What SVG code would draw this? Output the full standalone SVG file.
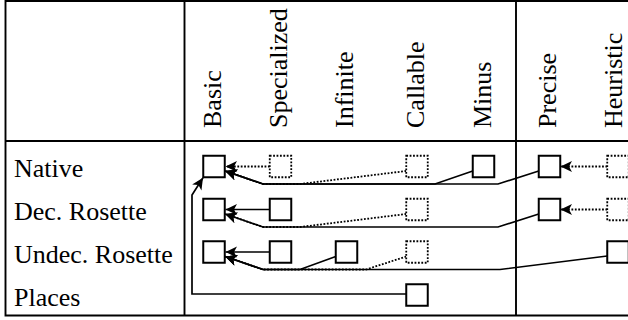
<svg xmlns="http://www.w3.org/2000/svg" width="628" height="320" viewBox="0 0 628 320">
  <style>
    .grid { stroke: #000; stroke-width: 1.9; fill: none; }
    .lbl { font-family: "Liberation Serif", "Times New Roman", serif; font-size: 26px; fill: #000; }
    .box { fill: #fff; stroke: #000; stroke-width: 2; }
    .box.dot { stroke-dasharray: 1.8 1.6; stroke-width: 1.8; }
    .edge { fill: none; stroke: #000; stroke-width: 1.7; stroke-linejoin: miter; }
    .edge.dot { stroke-dasharray: 1.8 1.6; stroke-width: 1.8; }
    .arr { marker-end: url(#tip); }
  </style>
  <defs>
    <marker id="tip" markerUnits="userSpaceOnUse" viewBox="-13 -7 14 14" refX="0" refY="0" markerWidth="14" markerHeight="14" orient="auto">
      <path d="M0,0 L-11.5,-5.5 L-8.5,0 L-11.5,5.5 Z" fill="#000"/>
    </marker>
  </defs>
  <rect width="628" height="320" fill="#fff"/>

  <!-- table frame -->
  <g id="table">
    <path class="grid" d="M630,1 H5.5 V315.5 H630"/>
    <path class="grid" d="M184.5,1 V315.5"/>
    <path class="grid" d="M516,1 V315.5"/>
    <path class="grid" d="M5.5,141 H630"/>
  </g>

  <!-- column headings -->
  <g id="columns" class="lbl">
    <text transform="translate(220.5,128) rotate(-90)">Basic</text>
    <text transform="translate(287,128) rotate(-90)">Specialized</text>
    <text transform="translate(353,128) rotate(-90)">Infinite</text>
    <text transform="translate(424,128) rotate(-90)">Callable</text>
    <text transform="translate(491,128) rotate(-90)">Minus</text>
    <text transform="translate(556,128) rotate(-90)">Precise</text>
    <text transform="translate(622,128) rotate(-90)">Heuristic</text>
  </g>

  <!-- row headings -->
  <g id="rows" class="lbl">
    <text x="14" y="177">Native</text>
    <text x="14" y="220">Dec. Rosette</text>
    <text x="14" y="263">Undec. Rosette</text>
    <text x="14" y="306">Places</text>
  </g>

  <!-- connectors -->
  <g id="connectors">
    <!-- Native -->
    <path class="edge dot arr" d="M269.75,166.5 H225.5"/>
    <path class="edge dot arr" d="M406.25,171 L300,184 H263 L225.2,171"/>
    <path class="edge arr" d="M472.75,171 L435,184 H263 L225.2,171"/>
    <path class="edge arr" d="M538.75,171 L498,184 H263 L225.2,171"/>
    <path class="edge dot arr" d="M607.25,166.5 H560.5"/>
    <!-- Dec. Rosette -->
    <path class="edge arr" d="M269.75,209.5 H225.5"/>
    <path class="edge dot arr" d="M406.25,214 L300,227 H263 L225.2,214"/>
    <path class="edge arr" d="M538.75,214 L498,227 H263 L225.2,214"/>
    <path class="edge dot arr" d="M607.25,209.5 H560.5"/>
    <!-- Undec. Rosette -->
    <path class="edge arr" d="M269.75,252 H225.5"/>
    <path class="edge arr" d="M335.75,256.5 L300,269.5 H263 L225.2,256.5"/>
    <path class="edge dot arr" d="M406.25,256.5 L366,269.5 H263 L225.2,256.5"/>
    <path class="edge arr" d="M607.25,256 L500,269.5 H263 L225.2,256.5"/>
    <!-- Places -->
    <path class="edge arr" d="M406.25,294 H192 V195 L203,177.8"/>
  </g>

  <!-- Native row -->
  <g id="native-basic"><rect class="box" x="203.25" y="155.75" width="21.5" height="21.5"/></g>
  <g id="native-specialized"><rect class="box dot" x="269.75" y="155.75" width="21.5" height="21.5"/></g>
  <g id="native-callable"><rect class="box dot" x="406.25" y="155.75" width="21.5" height="21.5"/></g>
  <g id="native-minus"><rect class="box" x="472.75" y="155.75" width="21.5" height="21.5"/></g>
  <g id="native-precise"><rect class="box" x="538.75" y="155.75" width="21.5" height="21.5"/></g>
  <g id="native-heuristic"><rect class="box dot" x="607.25" y="155.75" width="21.5" height="21.5"/></g>

  <!-- Dec. Rosette row -->
  <g id="dec-basic"><rect class="box" x="203.25" y="198.75" width="21.5" height="21.5"/></g>
  <g id="dec-specialized"><rect class="box" x="269.75" y="198.75" width="21.5" height="21.5"/></g>
  <g id="dec-callable"><rect class="box dot" x="406.25" y="198.75" width="21.5" height="21.5"/></g>
  <g id="dec-precise"><rect class="box" x="538.75" y="198.75" width="21.5" height="21.5"/></g>
  <g id="dec-heuristic"><rect class="box dot" x="607.25" y="198.75" width="21.5" height="21.5"/></g>

  <!-- Undec. Rosette row -->
  <g id="undec-basic"><rect class="box" x="203.25" y="241.25" width="21.5" height="21.5"/></g>
  <g id="undec-specialized"><rect class="box" x="269.75" y="241.25" width="21.5" height="21.5"/></g>
  <g id="undec-infinite"><rect class="box" x="335.75" y="241.25" width="21.5" height="21.5"/></g>
  <g id="undec-callable"><rect class="box dot" x="406.25" y="241.25" width="21.5" height="21.5"/></g>
  <g id="undec-heuristic"><rect class="box" x="607.25" y="241.25" width="21.5" height="21.5"/></g>

  <!-- Places row -->
  <g id="places-callable"><rect class="box" x="406.25" y="284.25" width="21.5" height="21.5"/></g>
</svg>
